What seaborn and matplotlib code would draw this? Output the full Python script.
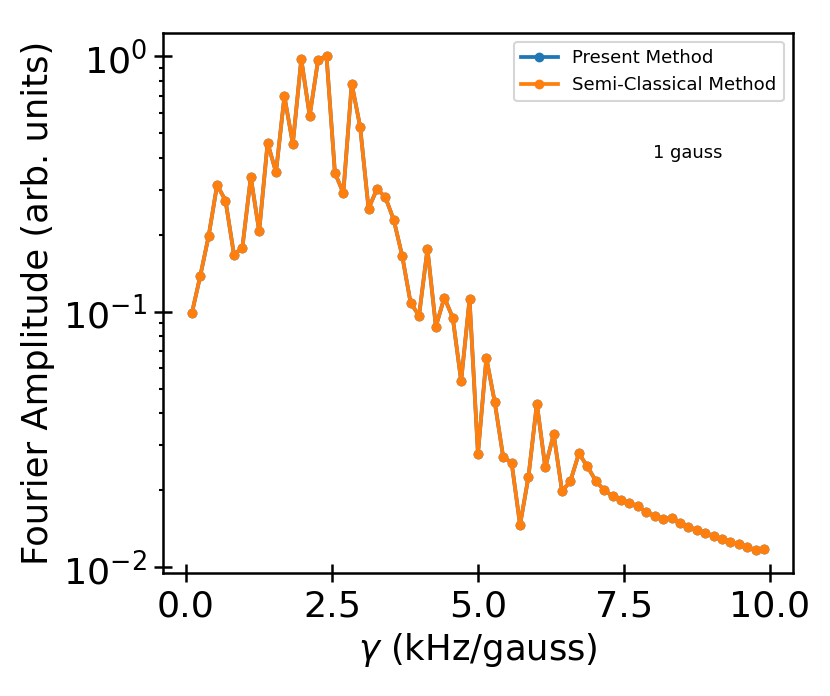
import numpy as np
import pandas as pd
import matplotlib
matplotlib.use('Agg')
import matplotlib.pyplot as plt
import seaborn as sns

# gamma 값 (kHz/gauss), 0.1 ~ 9.9 균일 간격 69점
gamma = [0.100, 0.244, 0.388, 0.532, 0.676, 0.821, 0.965, 1.109, 1.253, 1.397,
         1.541, 1.685, 1.829, 1.974, 2.118, 2.262, 2.406, 2.550, 2.694, 2.838,
         2.982, 3.126, 3.271, 3.415, 3.559, 3.703, 3.847, 3.991, 4.135, 4.279,
         4.424, 4.568, 4.712, 4.856, 5.000, 5.144, 5.288, 5.432, 5.576, 5.721,
         5.865, 6.009, 6.153, 6.297, 6.441, 6.585, 6.729, 6.874, 7.018, 7.162,
         7.306, 7.450, 7.594, 7.738, 7.882, 8.026, 8.171, 8.315, 8.459, 8.603,
         8.747, 8.891, 9.035, 9.179, 9.324, 9.468, 9.612, 9.756, 9.900]

# Fourier 진폭
amp_semi = [0.0986, 0.138, 0.198, 0.313, 0.272, 0.167, 0.178, 0.336, 0.206, 0.457,
            0.351, 0.696, 0.453, 0.973, 0.583, 0.965, 1.000, 0.349, 0.291, 0.779,
            0.529, 0.253, 0.302, 0.280, 0.228, 0.165, 0.108, 0.0965, 0.176, 0.0874,
            0.1135, 0.0948, 0.0535, 0.112, 0.0278, 0.0659, 0.0442, 0.0270, 0.0257, 0.01465,
            0.0226, 0.0437, 0.0246, 0.0332, 0.0198, 0.0218, 0.0279, 0.0248, 0.0218, 0.0200,
            0.0190, 0.0183, 0.0178, 0.0174, 0.0164, 0.0159, 0.0155, 0.01556, 0.0149, 0.0144,
            0.0140, 0.0136, 0.01327, 0.0129, 0.0126, 0.01235, 0.0120, 0.01166, 0.0118]
# present method 결과는 semi-classical 과 겹쳐서 보이지 않음
amp_present = list(amp_semi)

df = pd.DataFrame({'gamma': gamma, 'present': amp_present, 'semi': amp_semi})

fig = plt.figure(figsize=(830 / 150, 696 / 150), dpi=150)
ax = fig.add_axes([0.1967, 0.1767, 0.7583, 0.7763])

sns.lineplot(data=df, x='gamma', y='present', ax=ax, color='#1f77b4', marker='.',
             markersize=7, markeredgewidth=1.2, markeredgecolor='#1f77b4',
             linewidth=1.8, estimator=None, label='Present Method')
sns.lineplot(data=df, x='gamma', y='semi', ax=ax, color='#ff7f0e', marker='.',
             markersize=7, markeredgewidth=1.2, markeredgecolor='#ff7f0e',
             linewidth=1.8, estimator=None, label='Semi-Classical Method')

ax.set_yscale('log')
ax.set_ylim(0.0095, 1.233)
ax.set_xlim(-0.39, 10.39)
ax.set_xticks([0.0, 2.5, 5.0, 7.5, 10.0])

ax.set_xlabel(r'$\gamma$ (kHz/gauss)', fontsize=17)
ax.set_ylabel('Fourier Amplitude (arb. units)', fontsize=17)
ax.tick_params(which='major', direction='inout', length=8.5, width=1.2, labelsize=17.5)
ax.tick_params(which='minor', direction='out', length=2, width=1.0)
for sp in ax.spines.values():
    sp.set_linewidth(1.2)

ax.legend(loc='upper right', fontsize=8.7)
ax.text(8.0, 0.4, '1 gauss', fontsize=8.6)

fig.savefig('out.png', dpi=150)
